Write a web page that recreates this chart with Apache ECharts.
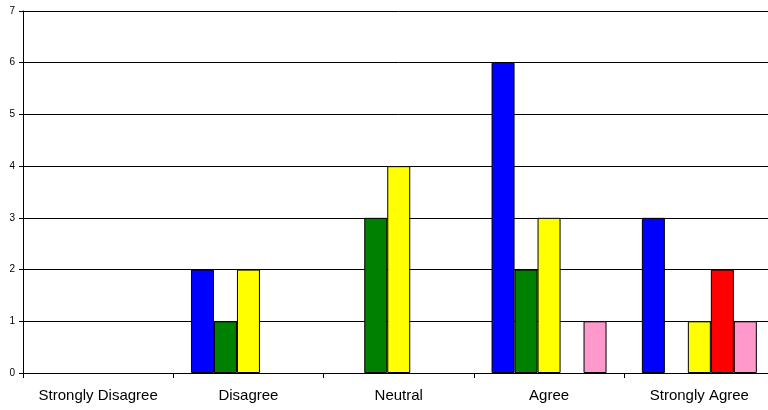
<!DOCTYPE html>
<html>
<head>
<meta charset="utf-8">
<script src="https://cdn.jsdelivr.net/npm/echarts@6/dist/echarts.min.js"></script>
<style>
  html, body { margin: 0; padding: 0; background: #fff; overflow: hidden; }
  #chart { width: 776px; height: 410px; }
</style>
</head>
<body>
<div id="chart"></div>
<script>
// Response categories along the x axis
const categories = ['Strongly Disagree', 'Disagree', 'Neutral', 'Agree', 'Strongly Agree'];

// Counts per response, one array per group
const seriesBlue   = [0, 2, 0, 6, 3];
const seriesGreen  = [0, 1, 3, 2, 0];
const seriesYellow = [0, 2, 4, 3, 1];
const seriesRed    = [0, 0, 0, 0, 2];
const seriesPink   = [0, 0, 0, 1, 1];

// Y axis range
const yMin = 0;
const yMax = 7;
const yStep = 1;

const groups = [
  { data: seriesBlue,   color: '#0000FF' },
  { data: seriesGreen,  color: '#008000' },
  { data: seriesYellow, color: '#FFFF00' },
  { data: seriesRed,    color: '#FF0000' },
  { data: seriesPink,   color: '#FF99CC' }
];

const chart = echarts.init(document.getElementById('chart'), null, { renderer: 'canvas' });

chart.setOption({
  animation: false,
  backgroundColor: '#ffffff',
  // the plot runs slightly past the right edge of the visible page
  grid: { left: 23, top: 11, right: 1.5, bottom: 37, containLabel: false },
  xAxis: {
    type: 'category',
    data: categories,
    axisLine: { show: true, lineStyle: { color: '#000', width: 1 } },
    axisTick: { show: true, length: 5, interval: 0, alignWithLabel: false, lineStyle: { color: '#000' } },
    axisLabel: {
      interval: 0,
      margin: 15,
      fontFamily: 'Liberation Sans, Arial, sans-serif',
      fontSize: 15,
      color: '#000'
    },
    splitLine: { show: false }
  },
  yAxis: {
    type: 'value',
    min: yMin,
    max: yMax,
    interval: yStep,
    axisLine: { show: true, lineStyle: { color: '#000', width: 1 } },
    axisTick: { show: true, length: 4, lineStyle: { color: '#000' } },
    axisLabel: {
      margin: 8,
      fontFamily: 'Liberation Sans, Arial, sans-serif',
      fontSize: 10,
      color: '#000'
    },
    splitLine: { show: true, lineStyle: { color: '#000', width: 1 } }
  },
  series: groups.map(g => ({
    type: 'bar',
    // empty counts get no outlined stub on the axis
    data: g.data.map(v => (v === 0 ? '-' : v)),
    barGap: '0%',
    barCategoryGap: '23.5%',
    itemStyle: { color: g.color, borderColor: '#000', borderWidth: 1 }
  }))
});
</script>
</body>
</html>
